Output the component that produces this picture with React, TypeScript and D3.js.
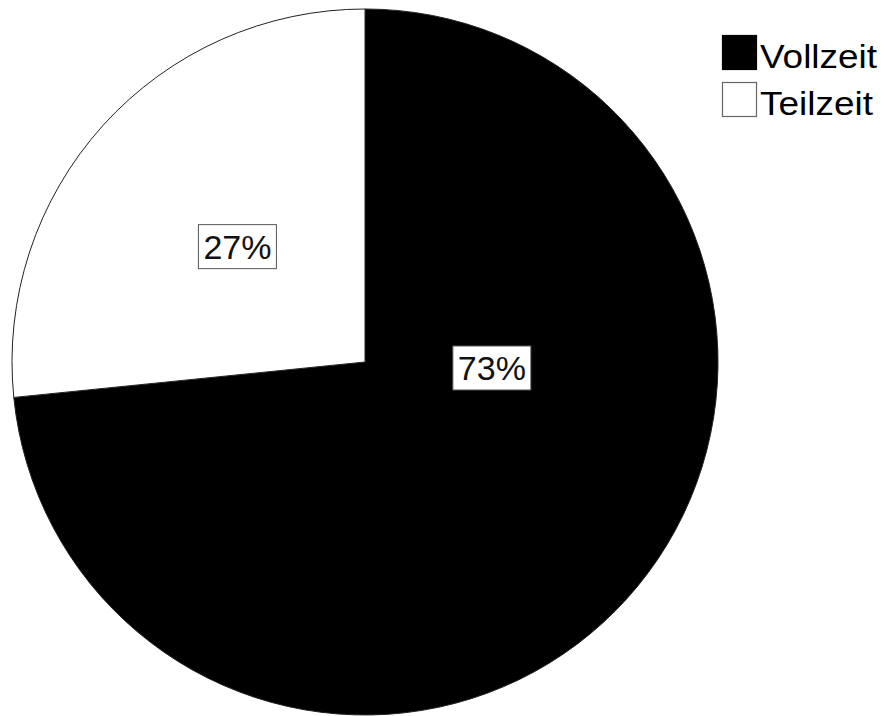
import React from "react";
import * as d3 from "d3";

const categories = ["Vollzeit", "Teilzeit"];
const shares = [73.4, 26.6];
const labels = ["73%", "27%"];
const fills = ["#000000", "#ffffff"];

export default function App() {
  const W = 885, H = 716;
  const cx = 365, cy = 362, r = 353;
  const pie = d3.pie<number>().sort(null).value((d) => d)(shares);
  const arc = d3.arc<d3.PieArcDatum<number>>().innerRadius(0).outerRadius(r);
  const labelArc = d3.arc<d3.PieArcDatum<number>>().innerRadius(344).outerRadius(0);
  const fs = 34;
  const labelPos = pie.map((p, i) => {
    if (i === 0) {
      const a = (92.7 * Math.PI) / 180;
      return [Math.sin(a) * 127, -Math.cos(a) * 127];
    }
    const [x, y] = labelArc.centroid(p);
    return [x, y];
  });
  return (
    <svg width={W} height={H} style={{ position: "absolute", left: 0, top: 0, background: "#fff" }}
      fontFamily="'Liberation Sans', Arial, sans-serif">
      <rect width={W} height={H} fill="#fff" />
      <g transform={`translate(${cx},${cy})`}>
        {pie.map((p, i) => (
          <path key={i} d={arc(p) || ""} fill={fills[i]} stroke="#222" strokeWidth={1} />
        ))}
        {pie.map((p, i) => {
          const [x, y] = labelPos[i];
          const w = 78, h = 44;
          return (
            <g key={"l" + i} transform={`translate(${x},${y})`}>
              <rect x={-w / 2} y={-h / 2} width={w} height={h} fill="#fff" stroke="#555" strokeWidth={1} />
              <text x={0} y={0} dy="0.36em" textAnchor="middle" fontSize={fs} fill="#111">{labels[i]}</text>
            </g>
          );
        })}
      </g>
      <g>
        {categories.map((c, i) => (
          <g key={c} transform={`translate(722,${35 + i * 47})`}>
            <rect x={0.5} y={0.5} width={34} height={34} fill={fills[i]} stroke={i === 0 ? "#000" : "#666"} strokeWidth={1.2} />
            <text transform="translate(38,33) scale(1.12,1)" x={0} y={0} fontSize={33} fill="#000">{c}</text>
          </g>
        ))}
      </g>
    </svg>
  );
}
